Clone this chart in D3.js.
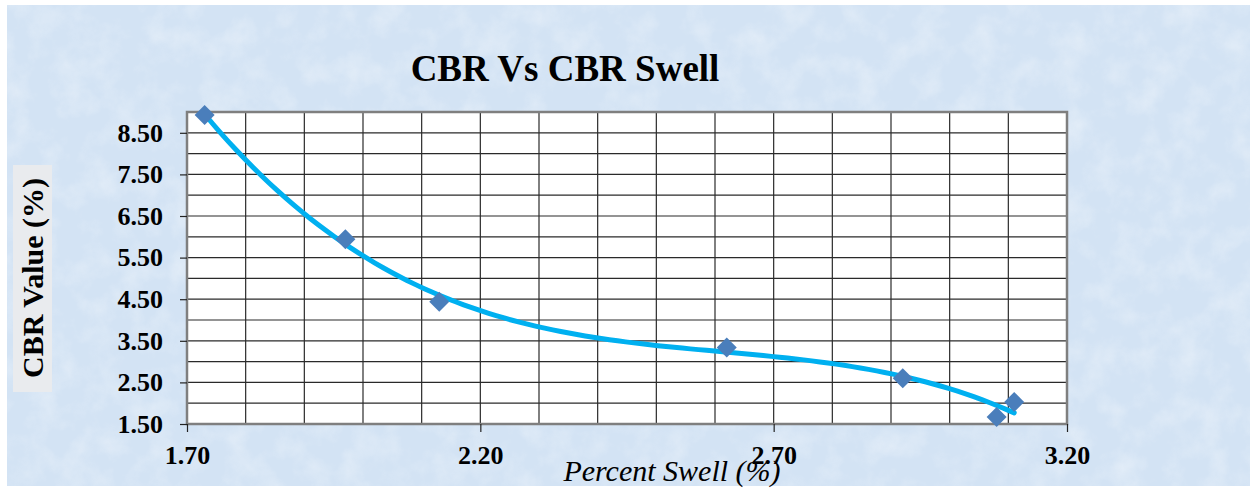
<!DOCTYPE html>
<html>
<head>
<meta charset="utf-8">
<script src="https://cdn.jsdelivr.net/npm/d3@7"></script>
<style>
  body { margin: 0; background: #fff; }
  svg { display: block; font-family: "Liberation Serif", "Times New Roman", serif; }
</style>
</head>
<body>
<div id="chart"></div>
<script>
// data
const swell = [1.73, 1.97, 2.13, 2.62, 2.92, 3.08, 3.11];
const cbr = [8.93, 5.94, 4.44, 3.34, 2.60, 1.67, 2.03];
const xTicks = [1.70, 2.20, 2.70, 3.20];
const yTicks = [1.50, 2.50, 3.50, 4.50, 5.50, 6.50, 7.50, 8.50];
const trendOrder = 3;

const width = 1253, height = 489;
const margin = { left: 187, right: 186, top: 112, bottom: 65 };
const serif = "Liberation Serif";

const svg = d3.select("#chart").append("svg")
    .attr("width", width)
    .attr("height", height);

// textured light blue background
const defs = svg.append("defs");
const f = defs.append("filter").attr("id", "tex")
    .attr("x", 0).attr("y", 0).attr("width", "100%").attr("height", "100%");
f.append("feTurbulence").attr("type", "fractalNoise")
    .attr("baseFrequency", "0.035").attr("numOctaves", 4).attr("seed", 7);
f.append("feColorMatrix").attr("type", "matrix")
    .attr("values", "0 0 0 0 1  0 0 0 0 1  0 0 0 0 1  0 0 0 1.1 -0.45");

svg.append("rect")
    .attr("x", 7).attr("y", 5)
    .attr("width", width - 10).attr("height", height - 8)
    .attr("fill", "#d3e3f4");
svg.append("rect")
    .attr("x", 7).attr("y", 5)
    .attr("width", width - 10).attr("height", height - 8)
    .attr("filter", "url(#tex)")
    .attr("opacity", 0.55);

const x = d3.scaleLinear()
    .domain([1.7, 3.2])
    .range([margin.left, width - margin.right]);
const y = d3.scaleLinear()
    .domain([1.5, 9])
    .range([height - margin.bottom, margin.top]);

// plot area
svg.append("rect")
    .attr("x", x(1.7)).attr("y", y(9))
    .attr("width", x(3.2) - x(1.7))
    .attr("height", y(1.5) - y(9))
    .attr("fill", "#fff");

// grid
const grid = svg.append("g").attr("stroke", "#2a2a2a").attr("stroke-width", 1.2);
grid.selectAll(".vg")
    .data(d3.range(1, 15).map(i => 1.7 + i * 0.1))
    .enter().append("line")
    .attr("x1", d => x(d)).attr("x2", d => x(d))
    .attr("y1", y(9)).attr("y2", y(1.5));
grid.selectAll(".hg")
    .data(d3.range(1, 15).map(i => 1.5 + i * 0.5))
    .enter().append("line")
    .attr("x1", x(1.7)).attr("x2", x(3.2))
    .attr("y1", d => y(d)).attr("y2", d => y(d));

svg.append("rect")
    .attr("x", x(1.7)).attr("y", y(9))
    .attr("width", x(3.2) - x(1.7))
    .attr("height", y(1.5) - y(9))
    .attr("fill", "none")
    .attr("stroke", "#7f7f7f")
    .attr("stroke-width", 2.5);

// axes
const xAxis = svg.append("g")
    .attr("transform", `translate(0,${y(1.5)})`)
    .call(d3.axisBottom(x).tickValues(xTicks).tickFormat(d3.format(".2f")).tickSize(8).tickPadding(14));
const yAxis = svg.append("g")
    .attr("transform", `translate(${x(1.7)},0)`)
    .call(d3.axisLeft(y).tickValues(yTicks).tickFormat(d3.format(".2f")).tickSize(7).tickPadding(17));

[xAxis, yAxis].forEach(a => {
    a.select(".domain").remove();
    a.selectAll(".tick line").attr("stroke", "#222").attr("stroke-width", 1.2);
    a.selectAll("text")
        .attr("fill", "#000")
        .attr("font-family", serif)
        .attr("font-weight", "bold")
        .attr("font-size", 26);
});

// polynomial trendline (least squares)
function polyFit(xs, ys, order) {
    const n = order + 1;
    const A = d3.range(n).map(() => new Array(n + 1).fill(0));
    xs.forEach((xv, k) => {
        for (let i = 0; i < n; i++) {
            for (let j = 0; j < n; j++) A[i][j] += Math.pow(xv, i + j);
            A[i][n] += ys[k] * Math.pow(xv, i);
        }
    });
    for (let c = 0; c < n; c++) {
        let p = c;
        for (let r = c + 1; r < n; r++) if (Math.abs(A[r][c]) > Math.abs(A[p][c])) p = r;
        [A[c], A[p]] = [A[p], A[c]];
        for (let r = 0; r < n; r++) {
            if (r === c) continue;
            const m = A[r][c] / A[c][c];
            for (let k = c; k <= n; k++) A[r][k] -= m * A[c][k];
        }
    }
    return d3.range(n).map(i => A[i][n] / A[i][i]);
}
const coef = polyFit(swell, cbr, trendOrder);
const trendY = xv => coef.reduce((s, c, i) => s + c * Math.pow(xv, i), 0);
const x0 = d3.min(swell), x1 = d3.max(swell);
const trend = d3.range(0, 101).map(i => x0 + (x1 - x0) * i / 100);

svg.append("path")
    .datum(trend)
    .attr("fill", "none")
    .attr("stroke", "#00b0f0")
    .attr("stroke-width", 5)
    .attr("stroke-linecap", "round")
    .attr("d", d3.line().x(d => x(d)).y(d => y(trendY(d))));

// markers
svg.selectAll(".pt")
    .data(swell)
    .enter().append("path")
    .attr("class", "pt")
    .attr("d", d3.symbol().type(d3.symbolSquare).size(200))
    .attr("transform", (d, i) => `translate(${x(d)},${y(cbr[i])}) rotate(45)`)
    .attr("fill", "#4a7ebb");

// title
svg.append("text")
    .attr("x", 565).attr("y", 81)
    .attr("text-anchor", "middle")
    .attr("font-family", serif)
    .attr("font-weight", "bold")
    .attr("font-size", 37)
    .text("CBR Vs CBR Swell");

// y axis title with light grey box
svg.append("rect")
    .attr("x", 13).attr("y", 165)
    .attr("width", 39).attr("height", 227)
    .attr("fill", "#e9ebee");
svg.append("text")
    .attr("transform", "translate(43,278) rotate(-90)")
    .attr("text-anchor", "middle")
    .attr("font-family", serif)
    .attr("font-weight", "bold")
    .attr("font-size", 30)
    .text("CBR Value (%)");

// x axis title
svg.append("text")
    .attr("x", 672).attr("y", 481)
    .attr("text-anchor", "middle")
    .attr("font-family", serif)
    .attr("font-style", "italic")
    .attr("font-size", 30)
    .text("Percent Swell (%)");
</script>
</body>
</html>
